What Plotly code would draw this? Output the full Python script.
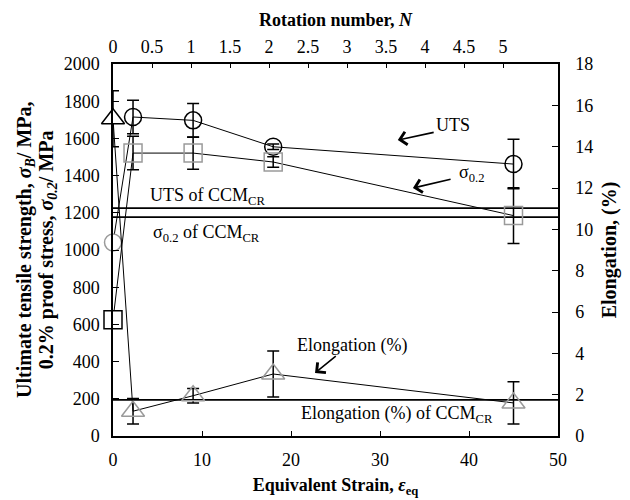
import plotly.graph_objects as go

# ---- data ----
strain = [0, 2.25, 9, 18, 45]
rotation_ticks = [0, 0.5, 1, 1.5, 2, 2.5, 3, 3.5, 4, 4.5, 5]
rotation_labels = ["0", "0.5", "1", "1.5", "2", "2.5", "3", "3.5", "4", "4.5", "5"]
uts = [1040, 1715, 1697, 1555, 1462]
uts_err = [0, 90, 91, 15, 133]
proof = [625, 1521, 1521, 1473, 1185]
proof_err = [45, 90, 87, 28, 150]
elong = [15.35, 1.2, 1.95, 3.0, 1.6]
elong_err = [1.35, 0.62, 0.35, 1.11, 1.02]
ccm_uts = 1225
ccm_proof = 1177
ccm_elong = 1.75
strain_range = [0, 50]
rotation_range = [0, 5.705]

FONT = "Liberation Serif"
GRAY = "#9a9a9a"

fig = go.Figure()

# reference lines (CCM_CR)
fig.add_trace(go.Scatter(x=strain_range, y=[ccm_uts] * 2, mode="lines",
                         line=dict(color="black", width=1.6), showlegend=False))
fig.add_trace(go.Scatter(x=strain_range, y=[ccm_proof] * 2, mode="lines",
                         line=dict(color="black", width=1.6), showlegend=False))
fig.add_trace(go.Scatter(x=strain_range, y=[ccm_elong] * 2, mode="lines", yaxis="y2",
                         line=dict(color="black", width=1.6), showlegend=False))

err_style = dict(type="data", visible=True, color="black", thickness=1.5, width=6)

# UTS
fig.add_trace(go.Scatter(
    x=strain, y=uts, mode="lines+markers", showlegend=False, cliponaxis=False,
    line=dict(color="black", width=1),
    error_y=dict(array=uts_err, **err_style),
    marker=dict(symbol=["circle"] + ["circle-open"] * 4, size=17,
                color=["white"] + ["black"] * 4,
                line=dict(color=[GRAY] + ["black"] * 4, width=1.5))))

# 0.2% proof stress
fig.add_trace(go.Scatter(
    x=strain, y=proof, mode="lines+markers", showlegend=False, cliponaxis=False,
    line=dict(color="black", width=1),
    error_y=dict(array=proof_err, **err_style),
    marker=dict(symbol=["square"] + ["square-open"] * 4, size=18,
                color=["white"] + [GRAY] * 4,
                line=dict(color=["black"] + [GRAY] * 4, width=1.5))))

# Elongation
fig.add_trace(go.Scatter(
    x=strain, y=elong, mode="lines+markers", yaxis="y2", showlegend=False, cliponaxis=False,
    line=dict(color="black", width=1),
    error_y=dict(array=elong_err, **err_style),
    marker=dict(symbol=["triangle-up"] + ["triangle-up-open"] * 4, size=20,
                color=["white"] + [GRAY] * 4,
                line=dict(color=["black"] + [GRAY] * 4, width=1.5))))

# invisible trace to host the top axis
fig.add_trace(go.Scatter(x=rotation_ticks, y=[None] * len(rotation_ticks), xaxis="x2",
                         mode="markers", showlegend=False, hoverinfo="skip"))

txt = dict(family=FONT, size=18, color="black")
ann = []
# text labels
ann.append(dict(x=38.2, y=1672, xref="x", yref="y", text="UTS", showarrow=False, font=txt))
ann.append(dict(x=38.6, y=1414, xref="x", yref="y", text="σ<sub>0.2</sub>", showarrow=False,
                font=txt, xanchor="left"))
ann.append(dict(x=3.9, y=1287, xref="x", yref="y", text="UTS of CCM<sub>CR</sub>",
                showarrow=False, font=txt, xanchor="left"))
ann.append(dict(x=4.3, y=1091, xref="x", yref="y", text="σ<sub>0.2</sub> of CCM<sub>CR</sub>",
                showarrow=False, font=txt, xanchor="left"))
ann.append(dict(x=26.85, y=4.4, xref="x", yref="y2", text="Elongation (%)", showarrow=False, font=txt))
ann.append(dict(x=31.9, y=1.02, xref="x", yref="y2", text="Elongation (%) of CCM<sub>CR</sub>",
                showarrow=False, font=txt))
# left axis title (two rotated lines)
ttl = dict(family=FONT, size=20, color="black")
ann.append(dict(x=-0.198, y=0.5, xref="paper", yref="paper", textangle=-90, showarrow=False,
                xanchor="center", yanchor="middle",
                text="<b>Ultimate tensile strength, <i>σ<sub>B</sub></i>/ MPa,</b>", font=ttl))
ann.append(dict(x=-0.148, y=0.5, xref="paper", yref="paper", textangle=-90, showarrow=False,
                xanchor="center", yanchor="middle",
                text="<b>0.2% proof stress, <i>σ<sub>0.2</sub></i>/ MPa</b>", font=ttl))
# arrows
arrow = dict(text="", showarrow=True, arrowhead=4, arrowsize=1.6, arrowwidth=1.6,
             arrowcolor="black", axref="x")
ann.append(dict(x=32.0, y=1591, ax=36.2, ay=1634, xref="x", yref="y", ayref="y", **arrow))
ann.append(dict(x=33.7, y=1333, ax=38.1, ay=1382, xref="x", yref="y", ayref="y", **arrow))
ann.append(dict(x=22.7, y=3.05, ax=25.2, ay=3.92, xref="x", yref="y2", ayref="y2", **arrow))

axis_common = dict(showgrid=False, zeroline=False, showline=True, linecolor="black",
                   linewidth=1.5, automargin=False,
                   tickfont=dict(family=FONT, size=18, color="black"))

fig.update_layout(
    width=630, height=500,
    margin=dict(l=113, r=72, t=64, b=64),
    paper_bgcolor="white", plot_bgcolor="white",
    font=dict(family=FONT, color="black"),
    annotations=ann,
    xaxis=dict(range=strain_range, tickvals=[0, 10, 20, 30, 40, 50], ticks="inside",
               ticklen=5, tickcolor="black", ticklabelstandoff=7,
               title=dict(text="<b>Equivalent Strain, <i>ε</i><sub>eq</sub></b>",
                          font=dict(family=FONT, size=18), standoff=9),
               **axis_common),
    xaxis2=dict(overlaying="x", side="top", range=rotation_range, tickvals=rotation_ticks,
                ticktext=rotation_labels, ticks="inside", ticklen=4, tickcolor="black",
                ticklabelstandoff=2,
                title=dict(text="<b>Rotation number, <i>N</i></b>",
                           font=dict(family=FONT, size=18), standoff=6),
                **axis_common),
    yaxis=dict(range=[0, 2000], dtick=200, ticks="inside", ticklen=6, tickcolor="black",
               ticklabelstandoff=8, **axis_common),
    yaxis2=dict(overlaying="y", side="right", range=[0, 18], dtick=2, ticks="inside",
                ticklen=6, tickcolor="black", ticklabelstandoff=12,
                title=dict(text="<b>Elongation, (%)</b>", font=dict(family=FONT, size=20),
                           standoff=10),
                **axis_common),
)

fig.write_html("out.html")
